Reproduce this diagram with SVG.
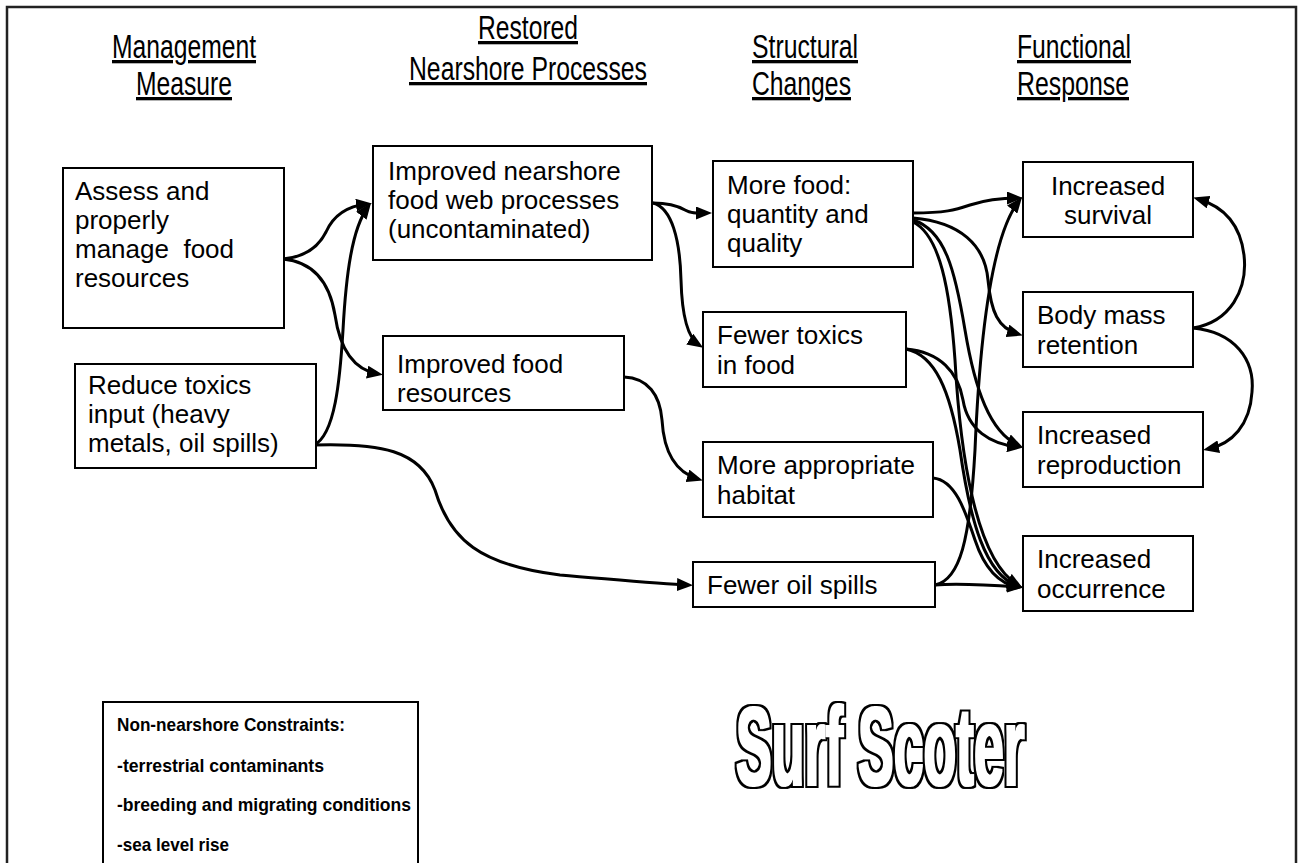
<svg xmlns="http://www.w3.org/2000/svg" width="1302" height="863" viewBox="0 0 1302 863">
<defs>
<marker id="ah" markerUnits="userSpaceOnUse" markerWidth="16" markerHeight="13" viewBox="0 0 16 13" refX="11" refY="6.5" orient="auto"><path d="M0,0 L16,6.5 L0,13 z" fill="#000"/></marker>
<filter id="outl" x="-5%" y="-15%" width="110%" height="130%">
<feMorphology in="SourceAlpha" operator="dilate" radius="1.3" result="d1"/>
<feMorphology in="SourceAlpha" operator="dilate" radius="2.8" result="d2"/>
<feComposite in="d2" in2="d1" operator="out"/>
</filter>
</defs>
<style>
.box{fill:#fff;stroke:#000;stroke-width:2}
.t{font-family:"Liberation Sans",Arial,sans-serif;font-size:26px;fill:#000}
.h{font-family:"Liberation Sans",Arial,sans-serif;font-size:33px;fill:#000;text-decoration:underline}
.c{fill:none;stroke:#000;stroke-width:3;marker-end:url(#ah)}
.k{font-family:"Liberation Sans",Arial,sans-serif;font-size:18.5px;font-weight:bold;fill:#000}
.ss{font-family:"Liberation Sans",Arial,sans-serif;font-size:112px;font-weight:bold;fill:#000}
</style>
<rect x="7" y="7" width="1289" height="900" fill="#fff" stroke="#222" stroke-width="2.5"/>

<g id="headers">
<text class="h" x="184" y="58" text-anchor="middle" textLength="144" lengthAdjust="spacingAndGlyphs">Management</text>
<text class="h" x="184" y="95" text-anchor="middle" textLength="96" lengthAdjust="spacingAndGlyphs">Measure</text>
<text class="h" x="528" y="39" text-anchor="middle" textLength="100" lengthAdjust="spacingAndGlyphs">Restored</text>
<text class="h" x="528" y="80" text-anchor="middle" textLength="238" lengthAdjust="spacingAndGlyphs">Nearshore Processes</text>
<text class="h" x="752" y="58" textLength="106" lengthAdjust="spacingAndGlyphs">Structural</text>
<text class="h" x="752" y="95" textLength="99" lengthAdjust="spacingAndGlyphs">Changes</text>
<text class="h" x="1017" y="58" textLength="114" lengthAdjust="spacingAndGlyphs">Functional</text>
<text class="h" x="1017" y="95" textLength="112" lengthAdjust="spacingAndGlyphs">Response</text>
</g>

<g id="connectors">
<path class="c" d="M283,259 C305,257 318,248 326,232 C334,214 348,206 367,204"/>
<path class="c" d="M283,259 C315,262 330,285 335,315 C340,350 355,370 378,374"/>
<path class="c" d="M314,445 C335,435 340,380 343,330 C346,275 352,228 368,207"/>
<path class="c" d="M314,445 C380,443 420,450 435,490 C450,540 480,565 560,575 C620,580 660,584 688,585"/>
<path class="c" d="M653,203 C670,203 678,206 685,210 C692,214 698,213 707,213"/>
<path class="c" d="M653,203 C672,208 680,240 681,280 C682,318 688,338 699,345"/>
<path class="c" d="M624,377 C648,378 660,395 662,420 C664,455 678,473 698,479"/>
<path class="c" d="M913,213 C945,213 955,210 970,205 C985,200 1000,198 1018,198"/>
<path class="c" d="M913,218 C960,222 985,245 988,280 C991,312 998,328 1018,334"/>
<path class="c" d="M913,220 C945,230 955,270 965,330 C975,390 990,432 1018,445"/>
<path class="c" d="M913,222 C940,235 950,290 955,360 C960,450 975,560 1018,585"/>
<path class="c" d="M906,349 C940,352 958,372 963,400 C968,430 990,444 1018,447"/>
<path class="c" d="M906,349 C935,355 950,390 960,450 C970,520 985,575 1018,586"/>
<path class="c" d="M933,478 C955,480 965,510 975,540 C985,570 1000,584 1018,587"/>
<path class="c" d="M935,585 C960,583 990,585 1018,587"/>
<path class="c" d="M935,585 C960,580 970,540 975,450 C980,330 992,235 1019,201"/>
<path class="c" d="M1193,328 C1230,322 1248,290 1244,255 C1240,222 1222,206 1198,199"/>
<path class="c" d="M1193,328 C1235,332 1255,360 1252,392 C1250,425 1232,444 1208,449"/>
</g>

<g id="assess">
<rect class="box" x="63" y="168" width="221" height="160"/>
<text class="t" x="75" y="200">Assess and</text>
<text class="t" x="75" y="229">properly</text>
<text class="t" x="75" y="258" xml:space="preserve">manage  food</text>
<text class="t" x="75" y="287">resources</text>
</g>
<g id="reduce">
<rect class="box" x="75" y="364" width="241" height="104"/>
<text class="t" x="88" y="394">Reduce toxics</text>
<text class="t" x="88" y="423">input (heavy</text>
<text class="t" x="88" y="452">metals, oil spills)</text>
</g>
<g id="improved-nearshore">
<rect class="box" x="373" y="146" width="279" height="114"/>
<text class="t" x="388" y="180">Improved nearshore</text>
<text class="t" x="388" y="209">food web processes</text>
<text class="t" x="388" y="238">(uncontaminated)</text>
</g>
<g id="improved-food">
<rect class="box" x="383" y="336" width="241" height="74"/>
<text class="t" x="397" y="373">Improved food</text>
<text class="t" x="397" y="402">resources</text>
</g>
<g id="more-food">
<rect class="box" x="713" y="161" width="200" height="106"/>
<text class="t" x="727" y="194">More food:</text>
<text class="t" x="727" y="223">quantity and</text>
<text class="t" x="727" y="252">quality</text>
</g>
<g id="fewer-toxics">
<rect class="box" x="703" y="312" width="203" height="75"/>
<text class="t" x="717" y="344">Fewer toxics</text>
<text class="t" x="717" y="374">in food</text>
</g>
<g id="habitat">
<rect class="box" x="703" y="442" width="230" height="75"/>
<text class="t" x="717" y="474">More appropriate</text>
<text class="t" x="717" y="504">habitat</text>
</g>
<g id="oil-spills">
<rect class="box" x="693" y="562" width="242" height="45"/>
<text class="t" x="707" y="594">Fewer oil spills</text>
</g>
<g id="survival">
<rect class="box" x="1023" y="162" width="170" height="75"/>
<text class="t" x="1108" y="195" text-anchor="middle">Increased</text>
<text class="t" x="1108" y="224" text-anchor="middle">survival</text>
</g>
<g id="body-mass">
<rect class="box" x="1023" y="292" width="170" height="75"/>
<text class="t" x="1037" y="324">Body mass</text>
<text class="t" x="1037" y="354">retention</text>
</g>
<g id="reproduction">
<rect class="box" x="1023" y="412" width="180" height="75"/>
<text class="t" x="1037" y="444">Increased</text>
<text class="t" x="1037" y="474">reproduction</text>
</g>
<g id="occurrence">
<rect class="box" x="1023" y="536" width="170" height="75"/>
<text class="t" x="1037" y="568">Increased</text>
<text class="t" x="1037" y="598">occurrence</text>
</g>
<g id="constraints">
<rect class="box" x="103" y="702" width="315" height="200"/>
<text class="k" x="117" y="731" textLength="228" lengthAdjust="spacingAndGlyphs">Non-nearshore Constraints:</text>
<text class="k" x="117" y="772" textLength="207" lengthAdjust="spacingAndGlyphs">-terrestrial contaminants</text>
<text class="k" x="117" y="811" textLength="294" lengthAdjust="spacingAndGlyphs">-breeding and migrating conditions</text>
<text class="k" x="117" y="851" textLength="112" lengthAdjust="spacingAndGlyphs">-sea level rise</text>
</g>
<g id="title" filter="url(#outl)">
<text class="ss" transform="translate(736,785) scale(0.478,1)">Surf Scoter</text>
</g>
</svg>
